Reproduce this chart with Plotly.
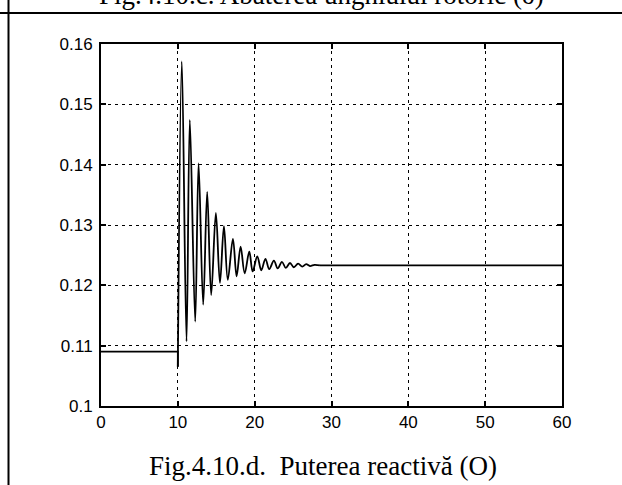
import plotly.graph_objects as go

# ---- data ----
pre_t = [0, 10, 10]
pre_v = [0.109, 0.109, 0.1065]

osc_t = [10.0, 10.52, 11.13, 11.56, 12.26, 12.70, 13.30, 13.82, 14.34, 14.95,
         15.48, 16.0, 16.5, 17.17, 17.65, 18.17, 18.7, 19.3, 19.74, 20.34,
         20.86, 21.4, 21.9, 22.5, 23.0, 23.55, 24.05, 24.6, 25.1, 25.65,
         26.2, 26.7, 27.2, 27.8, 28.5]
osc_v = [0.1065, 0.1571, 0.1107, 0.1474, 0.1140, 0.1402, 0.1168, 0.1355, 0.1184, 0.1320,
         0.1204, 0.1298, 0.1209, 0.1277, 0.1215, 0.1264, 0.1220, 0.1256, 0.1223, 0.1248,
         0.1225, 0.1244, 0.1227, 0.1241, 0.1228, 0.1239, 0.1229, 0.1237, 0.1230, 0.1236,
         0.1231, 0.1235, 0.1232, 0.1234, 0.1233]

post_t = [28.5, 60]
post_v = [0.1233, 0.1233]

x_ticks = [0, 10, 20, 30, 40, 50, 60]
y_ticks = [0.10, 0.11, 0.12, 0.13, 0.14, 0.15, 0.16]
y_tick_text = ["0.1", "0.11", "0.12", "0.13", "0.14", "0.15", "0.16"]

caption_top = "Fig.4.10.c. Abaterea unghiului rotoric (δ)"
caption_bottom = "Fig.4.10.d.  Puterea reactivă (O)"

# ---- layout geometry (pixels) ----
W, H = 622, 485
L, R, T, B = 101, 562, 44, 406
pw, ph = R - L, B - T

def px(x):
    return (x - L) / pw

def py(y):
    return (B - y) / ph

line = dict(color="black", width=1.8)

fig = go.Figure()
fig.add_trace(go.Scatter(x=pre_t, y=pre_v, mode="lines", line=line, hoverinfo="skip"))
fig.add_trace(go.Scatter(x=osc_t, y=osc_v, mode="lines",
                         line=dict(color="black", width=1.8, shape="spline", smoothing=1.0),
                         hoverinfo="skip"))
fig.add_trace(go.Scatter(x=post_t, y=post_v, mode="lines", line=line, hoverinfo="skip"))

axis_common = dict(
    showline=True, linecolor="black", linewidth=2, mirror="ticks",
    ticks="inside", ticklen=5, tickcolor="black", tickwidth=1.5,
    showgrid=True, gridcolor="black", gridwidth=1, griddash="3px,4px",
    zeroline=False,
    tickfont=dict(family="Liberation Sans, Arial", size=17, color="black"),
)

fig.update_layout(
    width=W, height=H,
    margin=dict(l=L, r=W - R, t=T, b=H - B, pad=0),
    paper_bgcolor="white", plot_bgcolor="white",
    showlegend=False,
    xaxis=dict(range=[0, 60], tickvals=x_ticks, ticktext=[str(v) for v in x_ticks], **axis_common),
    yaxis=dict(range=[0.10, 0.16], tickvals=y_ticks, ticktext=y_tick_text,
               ticklabelstandoff=3, **axis_common),
    shapes=[
        dict(type="line", xref="paper", yref="paper", x0=px(0), x1=px(W), y0=py(13), y1=py(13),
             line=dict(color="black", width=2)),
        dict(type="line", xref="paper", yref="paper", x0=px(8.5), x1=px(8.5), y0=py(0), y1=py(H),
             line=dict(color="black", width=2)),
    ],
    annotations=[
        dict(text=caption_top, xref="paper", yref="paper", x=px(321), y=py(-5),
             xanchor="center", yanchor="middle", showarrow=False,
             font=dict(family="Liberation Serif, Times New Roman", size=27, color="black")),
        dict(text=caption_bottom, xref="paper", yref="paper", x=px(323), y=py(466),
             xanchor="center", yanchor="middle", showarrow=False,
             font=dict(family="Liberation Serif, Times New Roman", size=27, color="black")),
    ],
)

fig.write_html("out.html")
